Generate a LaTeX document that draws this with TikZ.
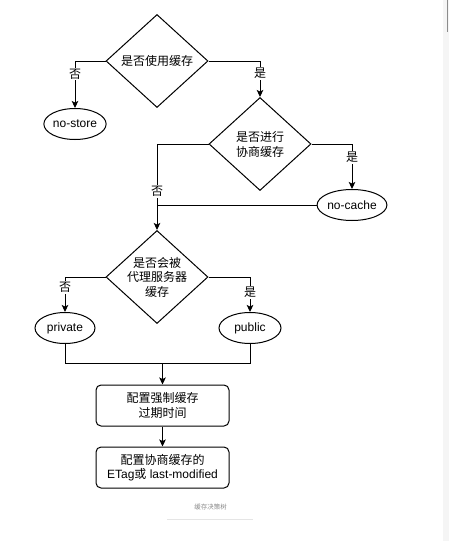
\documentclass[tikz,border=0pt]{standalone}
\usepackage{fontspec}
\setmainfont{Liberation Sans}
\newfontfamily\cjk{Noto Sans CJK SC}
\usetikzlibrary{shapes.geometric,arrows.meta}
\begin{document}
\begin{tikzpicture}[x=1pt,y=-1pt,
  every node/.style={font=\fontsize{12}{15}\selectfont},
  dia/.style={draw,line width=1pt,diamond,minimum width=102pt,minimum height=93pt,inner sep=0pt},
  ell/.style={draw,line width=1pt,ellipse,minimum width=62pt,minimum height=31pt,inner sep=0pt},
  box/.style={draw,line width=1pt,rectangle,rounded corners=5pt,minimum width=133pt,minimum height=41pt,inner sep=0pt,align=center},
  lbl/.style={fill=white,inner sep=1pt,font=\fontsize{12}{14}\selectfont\cjk},
  dtext/.style={align=center,inner sep=0pt,font=\fontsize{12}{15}\selectfont\cjk},
  line/.style={line width=1pt},
  arr/.style={line width=1pt,-{Stealth[length=7pt,width=6.5pt,inset=1.5pt]}}]
\useasboundingbox (0,0) rectangle (449,541);
\fill[white] (0,0) rectangle (449,541);
\fill[black!4] (443,0) rectangle (449,541);
\draw[black!45,line width=1.5pt] (447.5,0) -- (447.5,32);

\node[dia] (d1) at (157,61) {};
\node[dtext] (t1) at (d1.center) {是否使用缓存};
\node[ell] (ns) at (75,124) {no-store};
\node[dia] (d2) at (260,144) {};
\node[dtext] (t2) at (d2.center) {是否进行\\协商缓存};
\node[ell] (nc) at (352,205) {no-cache};
\node[dia] (d3) at (157,277) {};
\node[dtext,font=\fontsize{12}{14.5}\selectfont\cjk] (t3) at (d3.center) {是否会被\\代理服务器\\缓存};
\node[ell,minimum width=60pt] (pr) at (65,328) {private};
\node[ell] (pu) at (250,328) {public};
\node[box,font=\fontsize{12}{14.5}\selectfont\cjk] (b1) at (162.5,405.5) {配置强制缓存\\过期时间};
\node[box,font=\fontsize{12}{14.5}\selectfont] (b2) at (162.5,467.5) {{\cjk 配置协商缓存的}\\ETag{\cjk 或} last-modified};

\coordinate (m) at ([yshift=21pt]b1.north);

\draw[arr] (d1.west) -| node[lbl,pos=0.64] (l1) {否} (ns.north);
\draw[arr] (d1.east) -| node[lbl,pos=0.675] (l2) {是} (d2.north);
\draw[arr] (d2.east) -| node[lbl,pos=0.65] (l3) {是} (nc.north);
\draw[arr] (d2.west) -| node[lbl,pos=0.776] (l4) {否} (d3.north);
\draw[line] (nc.west) -- (nc.west -| d3.north);
\draw[arr] (d3.west) -| node[lbl,pos=0.65] (l5) {否} (pr.north);
\draw[arr] (d3.east) -| node[lbl,pos=0.72] (l6) {是} (pu.north);
\draw[line] (pr.south) |- (m) -| (pu.south);
\draw[arr] (m) -- (b1.north);
\draw[arr] (b1.south) -- (b2.north);

\node[font=\fontsize{6.5}{8}\selectfont\cjk,text=black!45] (cap) at (210.5,507) {缓存决策树};
\coordinate (ca) at (167,519);
\coordinate (cb) at (253,519);
\draw[black!10,line width=0.8pt] (ca) -- (cb);
\end{tikzpicture}
\end{document}
